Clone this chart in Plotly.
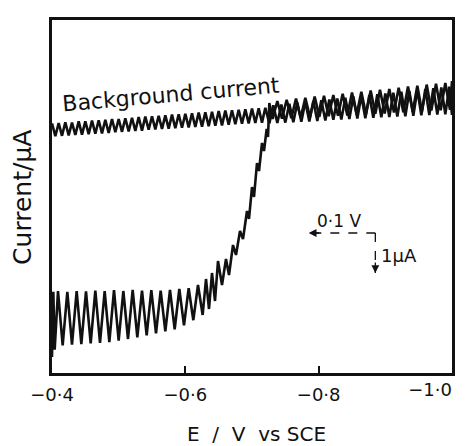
import plotly.graph_objects as go

# Potential (V vs SCE) and current (uA)
bg_E = [-0.400, -0.405, -0.410, -0.415, -0.420, -0.425, -0.430, -0.435, -0.440, -0.445,
        -0.450, -0.455, -0.460, -0.465, -0.470, -0.475, -0.480, -0.485, -0.490, -0.495,
        -0.500, -0.505, -0.510, -0.515, -0.520, -0.525, -0.530, -0.535, -0.540, -0.545,
        -0.550, -0.555, -0.560, -0.565, -0.570, -0.575, -0.580, -0.585, -0.590, -0.595,
        -0.600, -0.605, -0.610, -0.615, -0.620, -0.625, -0.630, -0.635, -0.640, -0.645,
        -0.650, -0.655, -0.660, -0.665, -0.670, -0.675, -0.680, -0.685, -0.690, -0.695,
        -0.700, -0.705, -0.710, -0.715, -0.720,
        -0.726, -0.732, -0.738, -0.744, -0.750, -0.756, -0.762, -0.768, -0.774, -0.780,
        -0.786, -0.792, -0.798, -0.804, -0.810, -0.816, -0.822, -0.828, -0.834, -0.840,
        -0.846, -0.852, -0.858, -0.864, -0.870, -0.876, -0.882, -0.888, -0.894, -0.900,
        -0.906, -0.912, -0.918, -0.924, -0.930, -0.936, -0.942, -0.948, -0.954, -0.960,
        -0.966, -0.972, -0.978, -0.984, -0.990, -0.996, -1.000]
bg_I = [6.24, 5.92, 6.25, 5.93, 6.27, 5.94, 6.26, 5.95, 6.29, 5.96,
        6.29, 5.97, 6.31, 5.98, 6.32, 5.99, 6.33, 6.00, 6.35, 6.02,
        6.35, 6.03, 6.37, 6.04, 6.38, 6.05, 6.40, 6.06, 6.41, 6.08,
        6.42, 6.09, 6.43, 6.10, 6.44, 6.11, 6.46, 6.12, 6.47, 6.13,
        6.48, 6.14, 6.49, 6.15, 6.51, 6.16, 6.52, 6.17, 6.53, 6.18,
        6.55, 6.19, 6.56, 6.21, 6.57, 6.22, 6.58, 6.23, 6.59, 6.24,
        6.61, 6.25, 6.62, 6.26, 6.63,
        6.24, 6.69, 6.25, 6.71, 6.26, 6.73, 6.27, 6.76, 6.28, 6.78,
        6.29, 6.80, 6.30, 6.82, 6.31, 6.84, 6.33, 6.86, 6.34, 6.88,
        6.35, 6.91, 6.36, 6.93, 6.37, 6.95, 6.38, 6.97, 6.39, 6.99,
        6.40, 7.01, 6.41, 7.03, 6.42, 7.05, 6.43, 7.08, 6.44, 7.10,
        6.45, 7.12, 6.46, 7.14, 6.47, 7.16, 6.45]

sample_E = [-0.400, -0.402, -0.404,
            -0.409, -0.416, -0.423, -0.430, -0.437, -0.444, -0.451, -0.458, -0.465, -0.472,
            -0.479, -0.486, -0.493, -0.500, -0.507, -0.514, -0.521, -0.528, -0.535, -0.542,
            -0.549, -0.556, -0.563, -0.570, -0.577, -0.584, -0.591, -0.598, -0.605, -0.612,
            -0.619, -0.626,
            -0.631, -0.6355, -0.640, -0.6445, -0.649, -0.655, -0.661, -0.6655, -0.6715, -0.676,
            -0.682, -0.6865, -0.6925, -0.6955, -0.700, -0.703, -0.7075, -0.7105, -0.715, -0.718,
            -0.722, -0.724, -0.726,
            -0.731, -0.738, -0.745, -0.752, -0.759, -0.766, -0.773, -0.780, -0.787, -0.794,
            -0.801, -0.808, -0.815, -0.822, -0.829, -0.836, -0.843, -0.850, -0.857, -0.864,
            -0.871, -0.878, -0.885, -0.892, -0.899, -0.906, -0.913, -0.920, -0.927, -0.934,
            -0.941, -0.948, -0.955, -0.962, -0.969, -0.976, -0.983, -0.990, -0.997, -1.000]
sample_I = [0.40, 2.03, 0.58,
            2.05, 0.69, 2.03, 0.71, 2.05, 0.72, 2.04, 0.74, 2.06, 0.75,
            2.05, 0.77, 2.07, 0.81, 2.05, 0.85, 2.08, 0.89, 2.06, 0.94,
            2.07, 0.99, 2.06, 1.04, 2.08, 1.09, 2.10, 1.19, 2.12, 1.32,
            2.20, 1.45,
            2.35, 1.60, 2.50, 1.80, 2.80, 2.20, 2.85, 2.45, 3.20, 2.95,
            3.55, 3.35, 4.05, 3.85, 4.65, 4.40, 5.25, 5.05, 5.75, 5.55,
            6.10, 5.90, 6.75,
            6.35, 6.80, 6.36, 6.83, 6.37, 6.86, 6.38, 6.88, 6.40, 6.91,
            6.41, 6.93, 6.42, 6.95, 6.43, 6.98, 6.44, 7.01, 6.46, 7.03,
            6.47, 7.06, 6.48, 7.08, 6.49, 7.10, 6.51, 7.13, 6.52, 7.16,
            6.53, 7.18, 6.54, 7.21, 6.56, 7.23, 6.57, 7.25, 6.58, 7.30]

x_tick_vals = [-0.4, -0.6, -0.8, -1.0]
x_tick_text = ["\u22120\u00b74", "\u22120\u00b76", "\u22120\u00b78", "\u22121\u00b70"]

# scale bar: 0.1 V and 1 uA
scale_E0 = -0.885
scale_dE = 0.1
scale_I0 = 3.5
scale_dI = 1.0

ink = "#111111"
font_family = "DejaVu Sans"
x_range = [-0.4, -1.0]

fig = go.Figure()
fig.add_trace(go.Scatter(x=bg_E, y=bg_I, mode="lines",
                         line=dict(color=ink, width=2.6), hoverinfo="skip"))
fig.add_trace(go.Scatter(x=sample_E, y=sample_I, mode="lines",
                         line=dict(color=ink, width=2.6), hoverinfo="skip"))
# empty trace that carries the second x axis (used for the last tick label)
fig.add_trace(go.Scatter(x=x_tick_vals[-1:], y=[None], xaxis="x2", mode="lines",
                         hoverinfo="skip"))

# scale bar lines
fig.add_shape(type="line", x0=scale_E0, x1=scale_E0 + scale_dE, y0=scale_I0, y1=scale_I0,
              line=dict(color=ink, width=1.3, dash="dash"))
fig.add_shape(type="line", x0=scale_E0, x1=scale_E0, y0=scale_I0, y1=scale_I0 - scale_dI,
              line=dict(color=ink, width=1.3, dash="dash"))
fig.add_annotation(x=scale_E0 + scale_dE, y=scale_I0, ax=12, ay=0, text="",
                   showarrow=True, arrowhead=2, arrowsize=1.2, arrowwidth=1.3, arrowcolor=ink)
fig.add_annotation(x=scale_E0, y=scale_I0 - scale_dI, ax=0, ay=-12, text="",
                   showarrow=True, arrowhead=2, arrowsize=1.2, arrowwidth=1.3, arrowcolor=ink)
fig.add_annotation(x=scale_E0 + scale_dE * 0.55, y=scale_I0, yshift=12, text="0\u00b71 V",
                   showarrow=False, font=dict(size=17, color=ink, family=font_family))
fig.add_annotation(x=scale_E0, y=scale_I0 - scale_dI * 0.55, xshift=4, xanchor="left",
                   text="1\u03bcA", showarrow=False,
                   font=dict(size=18, color=ink, family=font_family))

fig.add_annotation(x=-0.5785, y=6.975, text="Background current", showarrow=False,
                   textangle=-5, font=dict(size=22, color=ink, family=font_family))

# axis titles
fig.add_annotation(xref="paper", yref="paper", x=0.5125, y=-0.172,
                   xanchor="center", yanchor="middle",
                   text="E  /  V  vs SCE", showarrow=False,
                   font=dict(size=20, color=ink, family=font_family))
fig.add_annotation(xref="paper", yref="paper", x=-0.0725, y=0.496,
                   xanchor="center", yanchor="middle",
                   text="Current/\u03bcA", showarrow=False, textangle=-90,
                   font=dict(size=25, color=ink, family=font_family))

# the page body adds an 8 px margin, so the figure is 8 px smaller on each side
fig.update_layout(
    width=457, height=438,
    margin=dict(l=44, r=13, t=12, b=73, autoexpand=False),
    paper_bgcolor="white", plot_bgcolor="white",
    showlegend=False,
    font=dict(family=font_family, color=ink),
    xaxis2=dict(overlaying="x", side="bottom", range=x_range, automargin=False,
                showgrid=False, zeroline=False, showline=False, ticks="",
                tickmode="array", tickvals=x_tick_vals[-1:], ticktext=x_tick_text[-1:],
                ticklabelposition="outside left", ticklabelstandoff=4,
                tickfont=dict(size=18, color=ink, family=font_family)),
)
fig.update_xaxes(selector=dict(anchor="y"))
fig.layout.xaxis.update(range=x_range, showgrid=False, zeroline=False, automargin=False,
                        showline=True, linewidth=2.5, linecolor=ink, mirror=True,
                        tickmode="array", tickvals=x_tick_vals, ticktext=x_tick_text[:-1] + [""],
                        ticks="inside", ticklen=7, tickwidth=1.5, tickcolor=ink,
                        ticklabeloverflow="allow", ticklabelstandoff=4,
                        tickfont=dict(size=18, color=ink, family=font_family))
fig.update_yaxes(range=[0, 8.825], showgrid=False, zeroline=False, automargin=False,
                 showline=True, linewidth=2.5, linecolor=ink, mirror=True,
                 showticklabels=False, ticks="")

fig.write_html("out.html")
